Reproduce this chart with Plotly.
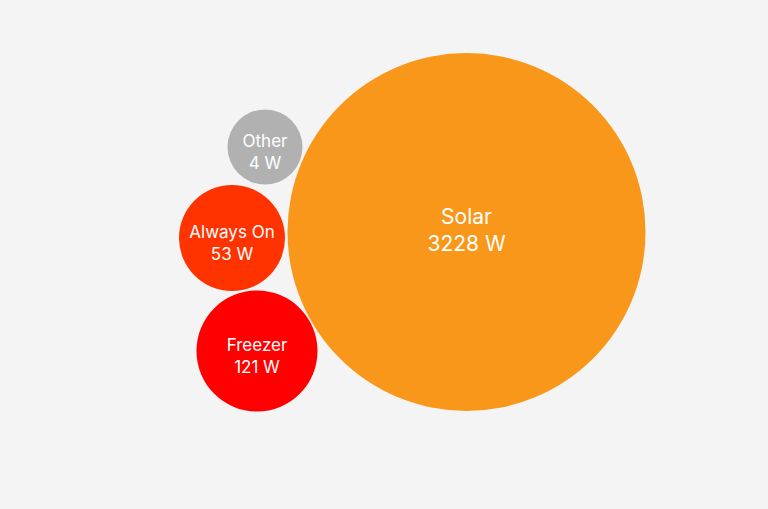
import plotly.graph_objects as go

# ---- data ----
categories = ["Solar", "Freezer", "Always On", "Other"]
values_w = [3228, 121, 53, 4]

# ---- layout of the packed bubbles (pixel space) ----
center_x = [466.5, 257, 232, 265]
center_y = [232, 351, 238, 147]
diameter_px = [358, 121, 106, 75]
label_dy = [0, 7, 7, 7]
colors = ["#F8971A", "#FF0000", "#FF3300", "#B1B1B1"]
font_sizes = [21, 17, 17, 17]

labels = [f"{c}<br>{v} W" for c, v in zip(categories, values_w)]

fig = go.Figure()
fig.add_trace(go.Scatter(
    x=center_x,
    y=center_y,
    mode="markers",
    marker=dict(size=diameter_px, sizemode="diameter", color=colors,
                line=dict(width=0), opacity=1),
    text=labels,
    hoverinfo="text",
    showlegend=False,
))
fig.add_trace(go.Scatter(
    x=center_x,
    y=[y + d for y, d in zip(center_y, label_dy)],
    mode="text",
    text=labels,
    textposition="middle center",
    textfont=dict(color="white", size=font_sizes, family="Inter, Lato, sans-serif"),
    hoverinfo="skip",
    showlegend=False,
))

fig.update_layout(
    width=768, height=509,
    margin=dict(l=0, r=0, t=0, b=0),
    paper_bgcolor="#F4F4F4",
    plot_bgcolor="#F4F4F4",
    xaxis=dict(range=[0, 768], visible=False, fixedrange=True),
    yaxis=dict(range=[509, 0], visible=False, fixedrange=True),
)

fig.write_html(
    "out.html",
    config={"displayModeBar": False},
    post_script="document.body.style.margin='0';document.body.style.background='#F4F4F4';document.body.style.overflow='hidden';",
)
